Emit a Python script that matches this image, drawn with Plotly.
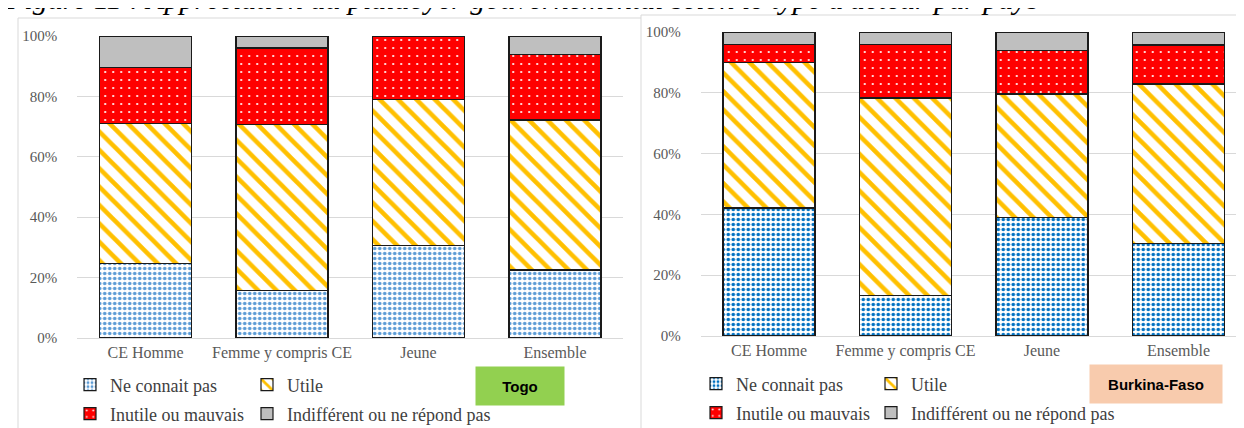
import plotly.graph_objects as go

categories = ["CE Homme", "Femme y compris CE", "Jeune", "Ensemble"]
series_names = ["Ne connait pas", "Utile", "Inutile ou mauvais", "Indifférent ou ne répond pas"]

togo_ne = [24.8, 15.6, 30.5, 22.5]
togo_utile = [46.2, 55.0, 48.6, 49.7]
togo_inutile = [18.6, 25.4, 20.9, 21.8]
togo_indiff = [10.4, 4.0, 0.0, 6.0]

bf_ne = [42.1, 13.2, 39.1, 30.3]
bf_utile = [47.9, 65.1, 40.5, 52.6]
bf_inutile = [6.0, 17.5, 14.4, 12.8]
bf_indiff = [4.0, 4.2, 6.0, 4.3]

tick_vals = [0, 0.2, 0.4, 0.6, 0.8, 1.0]
tick_text = ["0%", "20%", "40%", "60%", "80%", "100%"]

W, H = 1244, 428
def px(x):
    return x / W
def py(y):
    return 1 - y / H

SERIF = "Liberation Serif"
LINE = dict(color="#1a1a1a", width=1.2)

def styles(blue):
    return [
        dict(color="white", line=LINE,
             pattern=dict(shape=".", fgcolor=blue, bgcolor="white", size=5, solidity=0.4)),
        dict(color="white", line=LINE,
             pattern=dict(shape="\\", fgcolor="#FFC000", bgcolor="white", size=13, solidity=0.35)),
        dict(color="#FF0000", line=LINE,
             pattern=dict(shape=".", fgcolor="white", bgcolor="#FF0000", size=8, solidity=0.06)),
        dict(color="#BFBFBF", line=LINE),
    ]

fig = go.Figure()

togo_vals = [togo_ne, togo_utile, togo_inutile, togo_indiff]
bf_vals = [bf_ne, bf_utile, bf_inutile, bf_indiff]
togo_legends = ["legend", "legend2", "legend3", "legend4"]
bf_legends = ["legend5", "legend6", "legend7", "legend8"]

for name, vals, st, lg in zip(series_names, togo_vals, styles("#5B9BD5"), togo_legends):
    fig.add_trace(go.Bar(x=categories, y=[v / 100 for v in vals], name=name, marker=st,
                         xaxis="x", yaxis="y", legend=lg))
for name, vals, st, lg in zip(series_names, bf_vals, styles("#0070C0"), bf_legends):
    fig.add_trace(go.Bar(x=categories, y=[v / 100 for v in vals], name=name, marker=st,
                         xaxis="x2", yaxis="y2", legend=lg))

xfont = dict(family=SERIF, size=16, color="#595959")
yfont = dict(family=SERIF, size=15, color="#595959")
xcommon = dict(showgrid=False, showline=True, linecolor="#D9D9D9", linewidth=1,
               ticks="", tickfont=xfont, automargin=False,
               fixedrange=True)
ycommon = dict(range=[0, 1], tickvals=tick_vals, ticktext=tick_text, showgrid=True,
               gridcolor="#D9D9D9", gridwidth=1, zeroline=False, showline=False,
               ticks="outside", ticklen=16, tickcolor="rgba(0,0,0,0)",
               tickfont=yfont, automargin=False, fixedrange=True)

legend_common = dict(orientation="h", font=dict(family=SERIF, size=18, color="#404040"),
                     bgcolor="rgba(0,0,0,0)", xanchor="left", yanchor="middle",
                     itemclick=False, itemdoubleclick=False, itemwidth=30)

# legend positions (left x of each item, row y)
leg_pos = {
    "legend": (62, 377), "legend2": (239, 377), "legend3": (62, 406), "legend4": (239, 406),
    "legend5": (688, 376), "legend6": (863, 376), "legend7": (688, 405), "legend8": (863, 405),
}
legend_layout = {k: dict(x=px(x), y=py(y), **legend_common) for k, (x, y) in leg_pos.items()}

fig.update_layout(
    width=W, height=H,
    margin=dict(l=0, r=0, t=0, b=0),
    template="none",
    paper_bgcolor="white", plot_bgcolor="white",
    barmode="stack", bargap=0.326,
    xaxis=dict(domain=[px(69.25), px(615.25)], anchor="y", **xcommon),
    yaxis=dict(domain=[py(330), py(28)], anchor="x", **ycommon),
    xaxis2=dict(domain=[px(692.75), px(1238.75)], anchor="y2", **xcommon),
    yaxis2=dict(domain=[py(328), py(24)], anchor="x2", **ycommon),
    showlegend=True,
    **legend_layout,
)

# panel frames
fig.add_shape(type="rect", xref="paper", yref="paper", x0=px(10), x1=px(645), y0=py(440), y1=py(10),
              line=dict(color="#D9D9D9", width=1), fillcolor="white", layer="below")
fig.add_shape(type="rect", xref="paper", yref="paper", x0=px(633), x1=px(1260), y0=py(440), y1=py(7),
              line=dict(color="#D9D9D9", width=1), fillcolor="white", layer="below")

# clipped title at the top
fig.add_annotation(xref="paper", yref="paper", x=px(1032), y=py(9), xanchor="right", yanchor="bottom",
                   text="<i>Figure 11 : Appréciation du plaidoyer gouvernemental selon le type d'acteur par pays</i>",
                   showarrow=False, font=dict(family=SERIF, size=30, color="black"))

# country labels
fig.add_annotation(xref="paper", yref="paper", x=px(512), y=py(378), xanchor="center", yanchor="middle",
                   text="<b>Togo</b>", showarrow=False, width=86, height=36, bgcolor="#92D050",
                   font=dict(family="Liberation Sans", size=15, color="black"))
fig.add_annotation(xref="paper", yref="paper", x=px(1148), y=py(376), xanchor="center", yanchor="middle",
                   text="<b>Burkina-Faso</b>", showarrow=False, width=130, height=36, bgcolor="#F8CBAD",
                   font=dict(family="Liberation Sans", size=15, color="black"))

fig.write_html("out.html")
